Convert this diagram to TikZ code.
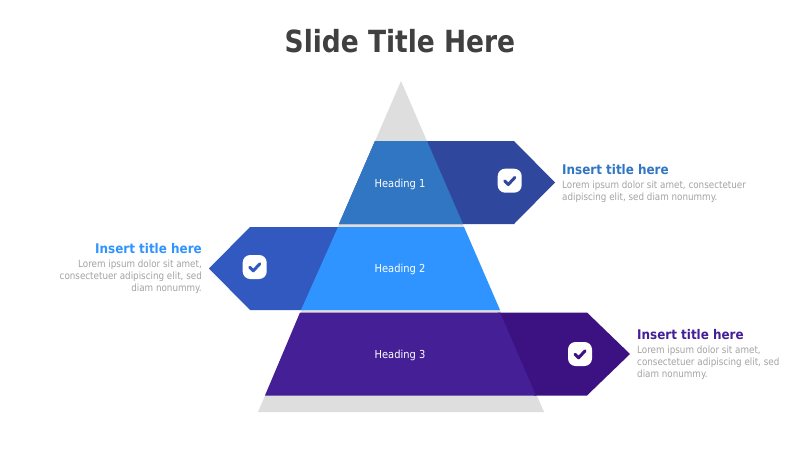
\documentclass[tikz,border=0pt]{standalone}
\usepackage{fontspec}
\setmainfont{DejaVu Sans Condensed}
\definecolor{ggray}{HTML}{DEDEDE}
\definecolor{arrowA}{HTML}{30479E}
\definecolor{bandA}{HTML}{3176C2}
\definecolor{arrowB}{HTML}{3259BF}
\definecolor{bandB}{HTML}{2F94FF}
\definecolor{arrowC}{HTML}{3C1283}
\definecolor{bandC}{HTML}{441F96}
\definecolor{bodygray}{HTML}{A3A3A3}
\tikzset{
  headlabel/.style={text=white,font=\fontsize{11}{13}\selectfont,inner sep=0pt},
  cardtitle/.style={font=\bfseries\fontsize{13.3}{16}\selectfont,inner sep=0pt},
  cardbody/.style={text=bodygray,font=\fontsize{10}{12}\selectfont,inner sep=0pt,xscale=0.975},
  badge/.style={fill=white,draw=none,rounded corners=7.5pt,minimum width=24pt,minimum height=24pt,inner sep=0pt},
  tick/.style={line width=3pt,line cap=round,line join=round}
}
\begin{document}
\begin{tikzpicture}[x=1pt,y=-1pt]
\useasboundingbox (0,0) rectangle (800,450);
\fill[white] (0,0) rectangle (800,450);
\node[text=black!75,font=\bfseries\fontsize{30.5}{36}\selectfont,inner sep=0pt,xscale=0.965] (title) at (400,41.5) {Slide Title Here};
% pyramid
\fill[ggray] (401,81) -- (544,412) -- (258,412) -- cycle;
% band 1
\fill[arrowA] (375,141) -- (514,141) -- (555,182.5) -- (514,224) -- (339,224) -- cycle;
\fill[bandA] (375,141) -- (427,141) -- (463,224) -- (339,224) -- cycle;
% band 2
\fill[arrowB] (340,227) -- (250,227) -- (209,268.5) -- (250,310) -- (303,310) -- cycle;
\fill[bandB] (338,227) -- (464,227) -- (500,310) -- (301,310) -- cycle;
% band 3
\fill[arrowC] (498,312.5) -- (587,312.5) -- (630,354) -- (587,395.5) -- (534,395.5) -- cycle;
\fill[bandC] (300,312.5) -- (500,312.5) -- (536,395.5) -- (265,395.5) -- cycle;
% headings
\node[headlabel] (h1) at (400,184) {Heading 1};
\node[headlabel] (h2) at (400,269.5) {Heading 2};
\node[headlabel] (h3) at (400,355) {Heading 3};
% badges
\node[badge] (b1) at (509.7,180.7) {};
\draw[tick,draw=arrowA] (504.7,181) -- (508.3,184.5) -- (514.8,177.5);
\node[badge] (b2) at (254.7,267) {};
\draw[tick,draw=arrowB] (249.7,267.3) -- (253.3,270.8) -- (259.8,263.8);
\node[badge] (b3) at (580,354) {};
\draw[tick,draw=arrowC] (575,354.3) -- (578.6,357.8) -- (585.1,350.8);
% texts
\node[cardtitle,text=bandA,anchor=west] (t1) at (562,170) {Insert title here};
\node[cardbody,anchor=north west,align=left] (d1) at (562,180.5) {Lorem ipsum dolor sit amet, consectetuer\\adipiscing elit, sed diam nonummy.};
\node[cardtitle,text=bandB,anchor=east] (t2) at (202,249) {Insert title here};
\node[cardbody,anchor=north east,align=right] (d2) at (202,259.5) {Lorem ipsum dolor sit amet,\\consectetuer adipiscing elit, sed\\diam nonummy.};
\node[cardtitle,text=bandC,anchor=west] (t3) at (637,335) {Insert title here};
\node[cardbody,anchor=north west,align=left] (d3) at (637,345.5) {Lorem ipsum dolor sit amet,\\consectetuer adipiscing elit, sed\\diam nonummy.};
\end{tikzpicture}
\end{document}
